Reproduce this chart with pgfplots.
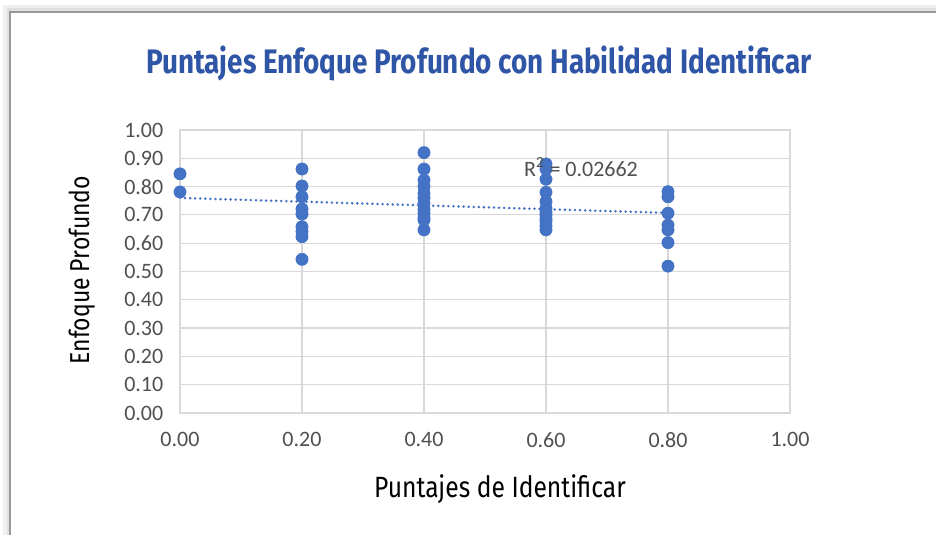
\documentclass[border=0pt]{standalone}
\usepackage{pgfplots}
\pgfplotsset{compat=1.18}
\usepackage{fontspec}
\setmainfont{Carlito}
\newfontfamily\titlefont[FakeStretch=0.82]{Fira Sans}
\newfontfamily\labelfont[FakeStretch=0.84]{Fira Sans}
\definecolor{ptblue}{RGB}{68,114,196}
\definecolor{ttlblue}{RGB}{47,85,166}
\definecolor{tickgray}{RGB}{80,80,80}
\definecolor{gridgray}{RGB}{217,217,217}
\begin{document}
\begin{tikzpicture}[x=0.75pt,y=0.75pt]
\useasboundingbox (0,0) rectangle (936,535);
\fill[white] (0,0) rectangle (936,535);
% frame with soft shadow
\draw[black!6, line width=4.5pt] (6,0) -- (6,527) -- (936,527);
\draw[black!12, line width=2.25pt] (8,0) -- (8,525) -- (936,525);
\draw[black!40, line width=0.9pt] (10,0) -- (10,523) -- (936,523);
\begin{axis}[
  at={(135pt,91.5pt)}, anchor=south west,
  scale only axis, width=457.5pt, height=212.25pt,
  xmin=0, xmax=1, ymin=0, ymax=1,
  xtick={0,0.2,0.4,0.6,0.8,1},
  ytick={0,0.1,0.2,0.3,0.4,0.5,0.6,0.7,0.8,0.9,1},
  grid=major,
  grid style={draw=gridgray, line width=0.9pt},
  axis line style={draw=gridgray, line width=0.9pt},
  major tick length=0pt,
  tick label style={font=\fontsize{16.5}{18}\selectfont, text=tickgray},
  xticklabel style={yshift=-11pt},
  yticklabel style={xshift=-9pt},
  /pgf/number format/.cd, fixed, fixed zerofill, precision=2, assume math mode=true,
]
\addplot[only marks, mark=*, mark size=4.6pt, mark options={fill=ptblue, draw=ptblue}] table {
x y
0.0 0.845
0.0 0.781
0.2 0.862
0.2 0.802
0.2 0.764
0.2 0.721
0.2 0.703
0.2 0.658
0.2 0.641
0.2 0.623
0.2 0.543
0.4 0.920
0.4 0.862
0.4 0.823
0.4 0.800
0.4 0.776
0.4 0.760
0.4 0.741
0.4 0.720
0.4 0.706
0.4 0.690
0.4 0.682
0.4 0.647
0.6 0.880
0.6 0.862
0.6 0.826
0.6 0.780
0.6 0.747
0.6 0.723
0.6 0.710
0.6 0.700
0.6 0.686
0.6 0.676
0.6 0.660
0.6 0.647
0.8 0.782
0.8 0.764
0.8 0.706
0.8 0.664
0.8 0.647
0.8 0.602
0.8 0.519
};
\addplot[ptblue, line width=2.1pt, line cap=round, dash pattern=on 0pt off 3.8pt] coordinates {(0,0.760) (0.8,0.707)};
\end{axis}
\node[text=tickgray, font=\fontsize{16.5}{18}\selectfont] at (581,368) {R\textsuperscript{2} = 0.02662};
\node[text=ttlblue, font=\titlefont\bfseries\fontsize{25.5}{30}\selectfont] at (479,472) {Puntajes Enfoque Profundo con Habilidad Identificar};
\node[font=\labelfont\fontsize{22}{26}\selectfont] at (500,46) {Puntajes de Identificar};
\node[font=\labelfont\fontsize{20.5}{24}\selectfont, rotate=90] at (82,265) {Enfoque Profundo};
\end{tikzpicture}
\end{document}
